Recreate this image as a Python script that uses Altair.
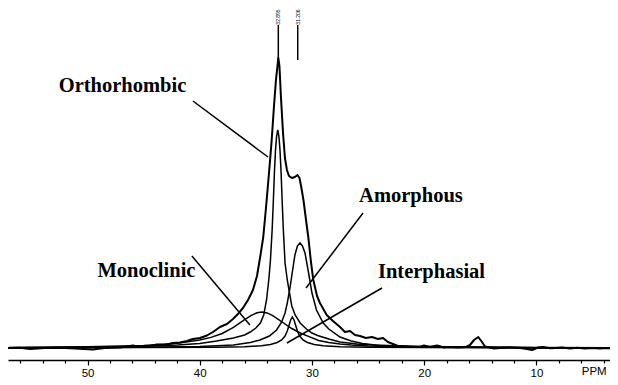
import altair as alt
import pandas as pd

# ---- total spectrum (ppm, intensity in arbitrary units) ----
total_ppm = [57.09, 56.02, 55.13, 53.80, 52.46, 51.12, 49.52, 48.45, 47.11, 45.95,
             45.33, 44.44, 43.81, 43.10, 42.39, 41.76, 41.14, 40.61, 39.98, 39.36,
             38.82, 38.20, 37.58, 37.04, 36.60, 36.15, 35.70, 35.26, 34.90, 34.63,
             34.34, 34.10, 33.83, 33.61, 33.39, 33.21, 33.00, 32.90, 32.76, 32.58,
             32.41, 32.23, 32.05, 31.78, 31.52, 31.29, 31.11, 30.94, 30.76, 30.53,
             30.33, 30.09, 29.88, 29.55, 29.29, 28.69, 28.13, 27.50, 27.06, 26.61,
             26.17, 25.72, 25.19, 24.65, 24.12, 23.67, 23.23, 22.78, 22.34, 21.71,
             21.09, 20.37, 20.02, 19.48, 18.86, 18.24, 17.70, 16.99, 16.27, 15.92,
             15.56, 15.18, 14.85, 14.58, 14.14, 13.78, 13.24, 12.35, 11.46, 10.84,
             10.39, 9.86, 9.41, 8.79, 8.25, 7.72, 7.00, 6.38, 5.67, 5.04,
             4.33, 3.71, 3.44]
total_h = [0, 0.3, -1, 0, 0.3, -0.5, -1.5, 0, 0.5, 2.5,
           1, 2, 3.5, 3, 5, 5.5, 7, 9, 10, 12.5,
           16, 21, 24, 29, 34, 40, 48, 58, 72, 90,
           111, 140, 175, 205, 241, 268, 290, 282, 250, 215,
           190, 178, 172, 170, 171, 173, 170, 160, 148, 128,
           111, 86, 68, 52, 45, 33, 27, 21, 16, 17,
           13, 12, 10, 11, 9, 10, 6, 4, 2, 1.5,
           1, 1, 2.5, 1, 2.5, 0.5, 1, 0.5, 1, 3,
           8, 11, 6, 1.5, 0.5, -0.5, 0, 0.5, 0, -1,
           -2, 0.5, 1, -0.3, 0, 0.5, -0.5, 0.3, -0.5, 0,
           -0.5, 0, -0.3]

# ---- deconvoluted components ----
ortho_ppm = [57, 50, 45, 42, 40, 38.5, 37, 36, 35.5, 35,
             34.6, 34.3, 34.05, 33.85, 33.7, 33.55, 33.45, 33.35, 33.25, 33.15,
             33.05, 32.95, 32.85, 32.75, 32.65, 32.55, 32.4, 32.2, 32.0, 31.8,
             31.5, 31.05, 30.5, 30.0, 29.5, 28.5, 27.5, 26, 24.5, 22,
             18, 10, 3.44]
ortho_h = [0.3, 0.8, 1.5, 3, 4.5, 7, 10, 13, 16, 20,
           25, 33, 48, 68, 88, 118, 145, 175, 198, 212,
           218, 212, 198, 175, 145, 118, 85, 68, 55, 42,
           33, 25, 19, 15, 12.5, 9, 6, 4, 3, 2,
           1.2, 0.5, 0.3]

amorph_ppm = [57, 45, 40, 37, 35.5, 34.63, 33.8, 33.15, 32.7, 32.4,
              32.2, 31.96, 31.75, 31.52, 31.3, 31.07, 30.85, 30.62, 30.3, 30.0,
              29.6, 29.0, 28.5, 27.5, 26.5, 25.5, 24, 20, 10, 3.44]
amorph_h = [0.3, 0.8, 1.5, 3, 5.5, 8, 12, 18, 26, 35,
            45, 60, 76, 93, 102, 105, 102, 95, 75, 55,
            38, 25, 19, 11, 7, 4.5, 2.5, 1, 0.3, 0.2]

mono_ppm = [57, 50, 45, 42, 40, 39, 38, 37, 36, 35.4,
            34.9, 34.46, 34.0, 33.5, 33.0, 32.4, 31.8, 31.0, 30.2, 29.4,
            28.5, 27.5, 26.5, 25, 22, 18, 10, 3.44]
mono_h = [0.6, 1.2, 2.5, 4.7, 7.9, 10.6, 14.5, 20.6, 28.4, 32.6,
          35.2, 36, 35.1, 32.4, 28.7, 24, 19.5, 14.8, 11.1, 7.5,
          5.5, 4, 3, 2, 1.2, 0.7, 0.3, 0.2]

inter_ppm = [57, 45, 38.5, 36, 34.5, 33.7, 33.1, 32.7, 32.4, 32.2,
             32.05, 31.9, 31.75, 31.6, 31.45, 31.3, 31.1, 30.8, 30.4, 29.8,
             29, 27.5, 25, 20, 10, 3.44]
inter_h = [0.2, 0.4, 0.8, 1.3, 2.2, 3.5, 5.5, 8, 12, 17,
           22.5, 28, 31, 28, 22.5, 17, 12, 8, 5.5, 3.5,
           2.2, 1.3, 0.8, 0.4, 0.2, 0.1]

# ---- annotations ----
label_text = ["Orthorhombic", "Monoclinic", "Amorphous", "Interphasial"]
label_ppm = [46.89, 44.75, 21.18, 19.35]
label_h = [256, 71, 146, 70]
leader_ppm1 = [40.61, 40.70, 25.45, 23.76]
leader_h1 = [247, 92, 135, 60]
leader_ppm2 = [33.92, 35.53, 30.53, 32.23]
leader_h2 = [191, 23, 60, 5]

marker_ppm = [33.00, 31.27]
marker_text = ["32.895", "31.206"]
marker_bottom = [288, 288]
marker_top = [323, 323]
marker_text_h = [331, 331]

tick_values = list(range(56, 3, -2))

# ---- build tables ----
curves = []
for name, xs, ys in [("total", total_ppm, total_h), ("ortho", ortho_ppm, ortho_h),
                     ("amorph", amorph_ppm, amorph_h), ("mono", mono_ppm, mono_h),
                     ("inter", inter_ppm, inter_h)]:
    for x, y in zip(xs, ys):
        curves.append({"series": name, "ppm": x, "h": y})
curves = pd.DataFrame(curves)
total_df = curves[curves.series == "total"]
comp_df = curves[curves.series != "total"]

labels_df = pd.DataFrame({"text": label_text, "ppm": label_ppm, "h": label_h})
leaders_df = pd.DataFrame({"ppm": leader_ppm1, "h": leader_h1,
                           "ppm2": leader_ppm2, "h2": leader_h2})
markers_df = pd.DataFrame({"ppm": marker_ppm, "h": marker_bottom, "h2": marker_top,
                           "text": marker_text, "th": marker_text_h})

xscale = alt.Scale(domain=[3.44, 57.09], reverse=True, nice=False, zero=False)
yscale = alt.Scale(domain=[-12, 340], nice=False, zero=False)

xaxis = alt.Axis(
    values=tick_values,
    labelExpr="datum.value % 10 == 0 ? datum.label : (datum.value == 4 ? 'PPM' : '')",
    title=None, grid=False, domainColor="black", domainWidth=1.5,
    tickColor="black", tickWidth=1.2,
    tickSize=alt.condition("datum.value % 10 == 0", alt.value(5), alt.value(3)),
    labelOffset=alt.condition("datum.value == 4", alt.value(-10), alt.value(0)),
    labelFont="Liberation Sans", labelFontSize=11.5, labelColor="black",
    labelPadding=2, labelFlush=False, labelOverlap=False,
)

X = alt.X("ppm:Q", scale=xscale, axis=xaxis)
Y = alt.Y("h:Q", scale=yscale, axis=None)

total_line = alt.Chart(total_df).mark_line(color="black", strokeWidth=2, strokeJoin="round").encode(
    x=X, y=Y)
comp_lines = alt.Chart(comp_df).mark_line(color="black", strokeWidth=1.5).encode(
    x=X, y=Y, detail="series:N")
leaders = alt.Chart(leaders_df).mark_rule(color="black", strokeWidth=1.5).encode(
    x=X, y=Y, x2="ppm2:Q", y2="h2:Q")
labels = alt.Chart(labels_df).mark_text(
    font="Liberation Serif", fontWeight="bold", fontSize=20.5, color="black",
    align="center", baseline="alphabetic").encode(
    x=X, y=Y, text="text:N")
markers = alt.Chart(markers_df).mark_rule(color="black", strokeWidth=1.5).encode(
    x=X, y=Y, y2="h2:Q")
marker_labels = alt.Chart(markers_df).mark_text(
    font="Liberation Sans", fontSize=5, color="black", angle=270,
    align="center", baseline="middle").encode(
    x=X, y=alt.Y("th:Q", scale=yscale, axis=None), text="text:N")

chart = alt.layer(total_line, comp_lines, leaders, labels, markers, marker_labels).properties(
    width=602, height=352,
    autosize=alt.AutoSizeParams(type="none"),
    padding={"left": 0, "top": 0, "right": 0, "bottom": 17},
    background="white",
).configure_view(stroke=None)

chart.save("out.html", embed_options={"renderer": "svg", "actions": False})
